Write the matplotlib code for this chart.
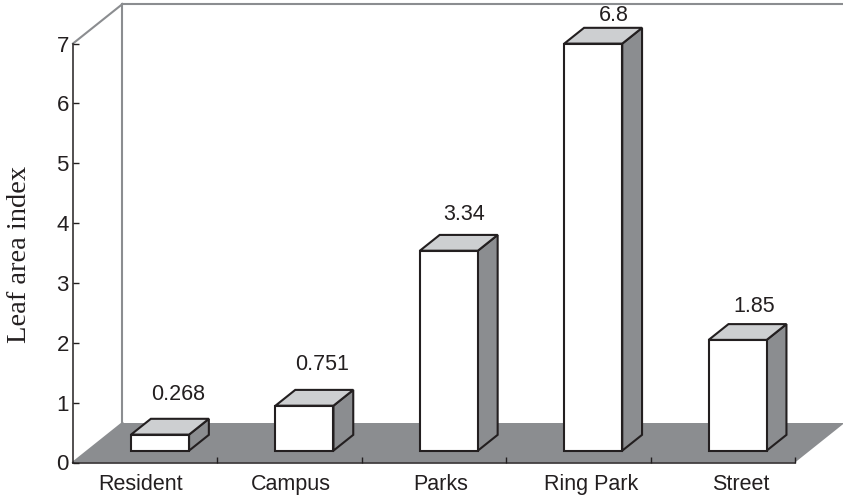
import matplotlib
matplotlib.use("Agg")
import matplotlib.pyplot as plt
from matplotlib.patches import Polygon

# --- data ---
categories = ["Resident", "Campus", "Parks", "Ring Park", "Street"]
values = [0.268, 0.751, 3.34, 6.8, 1.85]
value_labels = ["0.268", "0.751", "3.34", "6.8", "1.85"]
y_ticks = [0, 1, 2, 3, 4, 5, 6, 7]
y_label = "Leaf area index"

# --- layout (pixels / styling) ---
W, H = 843, 497
X0, X1, Y0, Y7 = 73, 795, 462.5, 43.5
DEPTH_PX = (49.5, 39.5)
label_shift_px = [-4.5, 1.5, 7, 13, 18]      # x tick-label shift
value_shift_px = [(8, 24), (8, 25), (5, 20), (11, 12), (7, 18)]
FLOOR = "#8b8d90"
TOP = "#cdcfd1"
INK = "#231f20"

plt.rcParams["font.family"] = ["Liberation Sans", "DejaVu Sans"]
fig = plt.figure(figsize=(W / 100, H / 100), dpi=100)
ax = fig.add_axes([X0 / W, 1 - Y0 / H, (X1 - X0) / W, (Y0 - Y7) / H])
n = len(categories)
ax.set_xlim(-0.5, n - 0.5)
ax.set_ylim(0, 7)
ppx = (X1 - X0) / n
ppy = (Y0 - Y7) / 7
dx, dy = DEPTH_PX[0] / ppx, DEPTH_PX[1] / ppy

# floor and back wall
ax.add_patch(Polygon([(-0.5, 0), (n - 0.5, 0), (n - 0.5 + dx, dy), (-0.5 + dx, dy)],
                     fc=FLOOR, ec="none", clip_on=False, zorder=1))
back = dict(color=FLOOR, lw=1.5, clip_on=False, zorder=1, solid_capstyle="projecting")
ax.plot([-0.5 + dx, -0.5 + dx], [dy, 7 + dy], **back)
ax.plot([-0.5 + dx, n - 0.5 + dx], [7 + dy, 7 + dy], **back)
ax.plot([-0.5, -0.5 + dx], [7, 7 + dy], **back)
ax.plot([-0.5, -0.5 + dx], [0, dy], **back)

# 3D bars
half = 29 / ppx
f0, f1 = 0.3, 0.7          # bar depth range
bx = [i + f0 * dx for i in range(n)]
base = f0 * dy
ddx, ddy = (f1 - f0) * dx, (f1 - f0) * dy
edge = dict(ec=INK, lw=1.5, joinstyle="miter", clip_on=False, zorder=3)
for cx, v in zip(bx, values):
    l, r = cx - half, cx + half
    t = base + v
    ax.add_patch(Polygon([(r, base), (r + ddx, base + ddy), (r + ddx, t + ddy), (r, t)], fc=FLOOR, **edge))
    ax.add_patch(Polygon([(l, t), (r, t), (r + ddx, t + ddy), (l + ddx, t + ddy)], fc=TOP, **edge))
ax.bar(bx, values, width=2 * half, bottom=base, color="white", edgecolor=INK, linewidth=1.5,
       clip_on=False, zorder=4)

# value labels
for cx, v, s, (sx, sy) in zip(bx, values, value_labels, value_shift_px):
    ax.annotate(s, (cx + ddx / 2, base + v + ddy), xytext=(sx * 0.72, sy * 0.72),
                textcoords="offset points", ha="center", va="center",
                fontsize=15.5, color=INK, zorder=5, annotation_clip=False)

# axes
for side in ("top", "right"):
    ax.spines[side].set_visible(False)
for side in ("left", "bottom"):
    ax.spines[side].set_color(INK)
    ax.spines[side].set_linewidth(1.1)
    ax.spines[side].set_zorder(2)
ax.set_yticks(y_ticks)
ax.tick_params(axis="y", direction="in", length=4.3, width=1, color=INK, labelsize=16,
               labelcolor=INK, pad=3)
ax.set_xticks([i + s / ppx for i, s in enumerate(label_shift_px)], categories)
ax.tick_params(axis="x", length=0, labelsize=15.5, labelcolor=INK, pad=8)
ax.set_xticks([i + 0.5 for i in range(n)], minor=True)
ax.tick_params(axis="x", which="minor", direction="in", length=4.3, width=1, color=INK)

fig.text(19.5 / W, 1 - 254 / H, y_label, rotation=90, ha="center", va="center",
         family=["Liberation Serif", "DejaVu Serif"], fontsize=20.5, color=INK)

fig.savefig("out.png", dpi=100)
